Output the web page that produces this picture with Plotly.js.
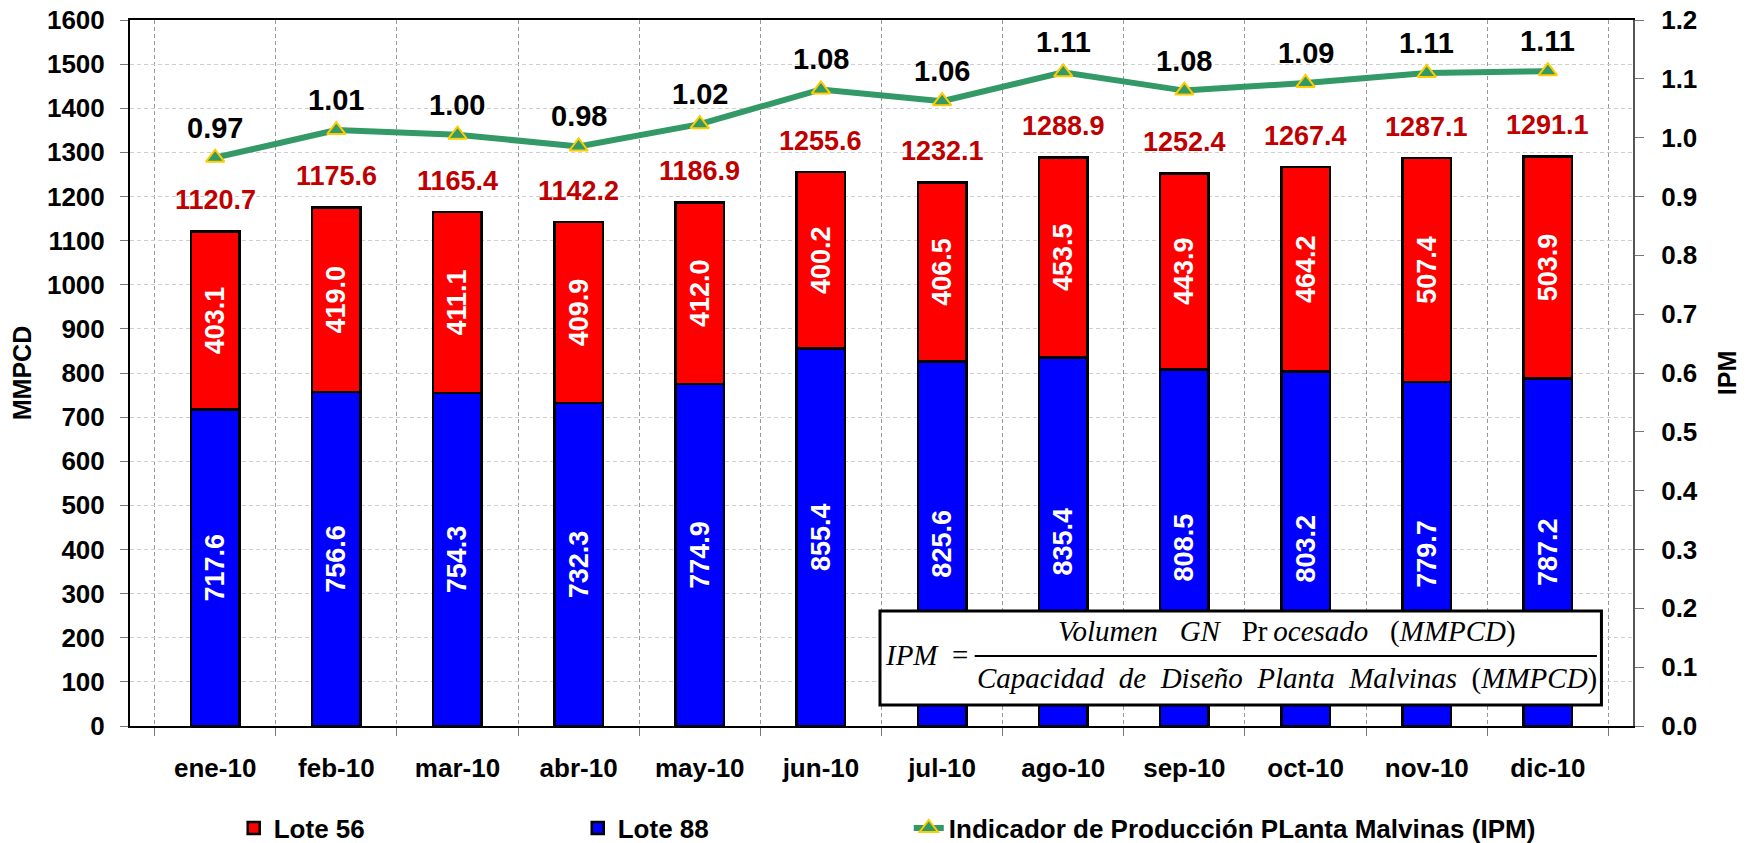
<!DOCTYPE html>
<html>
<head>
<meta charset="utf-8">
<script src="https://cdn.plot.ly/plotly-3.0.1.min.js"></script>
<style>html,body{margin:0;padding:0;background:#fff;}</style>
</head>
<body>
<div id="chart" style="width:1752px;height:843px;"></div>
<script>
// ---- Data ----
const months = ["ene-10","feb-10","mar-10","abr-10","may-10","jun-10","jul-10","ago-10","sep-10","oct-10","nov-10","dic-10"];
const lote88 = [717.6, 756.6, 754.3, 732.3, 774.9, 855.4, 825.6, 835.4, 808.5, 803.2, 779.7, 787.2];
const lote56 = [403.1, 419.0, 411.1, 409.9, 412.0, 400.2, 406.5, 453.5, 443.9, 464.2, 507.4, 503.9];
const totals = [1120.7, 1175.6, 1165.4, 1142.2, 1186.9, 1255.6, 1232.1, 1288.9, 1252.4, 1267.4, 1287.1, 1291.1];
const ipm = [0.966, 1.013, 1.005, 0.985, 1.023, 1.082, 1.062, 1.111, 1.080, 1.093, 1.110, 1.113];
const seriesNames = ["Lote 56", "Lote 88", "Indicador de Producción PLanta Malvinas (IPM)"];

const FONT = "Liberation Sans, Arial, sans-serif";
const SERIF = "Liberation Serif, Times New Roman, serif";
const PAD56 = "\u2003\u2003\u2003\u2003\u2003\u2003\u2003\u2003";
const PAD88 = "\u2003\u2003\u2003\u2003\u2003\u2003\u2003\u2002";

const traces = [
  {
    type: "bar", name: seriesNames[1] + PAD88, x: months, y: lote88,
    marker: {color: "#0000FF", line: {color: "#000", width: 2.5}},
    width: 0.4,
    text: lote88.map(v => v.toFixed(1)),
    textposition: "inside", insidetextanchor: "middle", textangle: -90,
    constraintext: "none",
    textfont: {family: FONT, size: 27, color: "#fff", weight: "bold"},
    legendrank: 2, hoverinfo: "x+y"
  },
  {
    type: "bar", name: seriesNames[0] + PAD56, x: months, y: lote56,
    marker: {color: "#FF0000", line: {color: "#000", width: 2.5}},
    width: 0.4,
    text: lote56.map(v => v.toFixed(1)),
    textposition: "inside", insidetextanchor: "middle", textangle: -90,
    constraintext: "none",
    textfont: {family: FONT, size: 27, color: "#fff", weight: "bold"},
    legendrank: 1, hoverinfo: "x+y"
  },
  {
    type: "scatter", mode: "lines+markers", name: seriesNames[2],
    x: months, y: ipm, yaxis: "y2",
    line: {color: "#339966", width: 6},
    marker: {symbol: "triangle-up", size: 16, color: "#339966", line: {color: "#FFCC00", width: 2}},
    legendrank: 3
  }
];

const annotations = [];
months.forEach((m, i) => {
  annotations.push({
    x: m, y: totals[i], xref: "x", yref: "y",
    text: totals[i].toFixed(1), showarrow: false,
    yanchor: "middle", yshift: 31,
    font: {family: FONT, size: 27, color: "#C00000", weight: "bold"}
  });
  annotations.push({
    x: m, y: ipm[i], xref: "x", yref: "y2",
    text: ipm[i].toFixed(2), showarrow: false,
    yanchor: "middle", yshift: 30,
    font: {family: FONT, size: 29, color: "#000", weight: "bold"}
  });
});

// Equation box text
const eqFont = {family: SERIF, size: 29, color: "#000"};
const G = "\u2002\u2005";
annotations.push({
  xref: "paper", yref: "paper", x: 0.530, y: 0.1005, showarrow: false,
  xanchor: "center", yanchor: "middle",
  text: "<i>IPM</i>\u2002=", font: eqFont
});
annotations.push({
  xref: "paper", yref: "paper", x: 0.770, y: 0.134, showarrow: false,
  xanchor: "center", yanchor: "middle",
  text: "<i>Volumen</i>" + G + "<i>GN</i>" + G + "Pr\u2009<i>ocesado</i>" + G + "(<i>MMPCD</i>)", font: eqFont
});
annotations.push({
  xref: "paper", yref: "paper", x: 0.770, y: 0.067, showarrow: false,
  xanchor: "center", yanchor: "middle",
  text: "<i>Capacidad</i>\u2002<i>de</i>\u2002<i>Diseño</i>\u2002<i>Planta</i>\u2002<i>Malvinas</i>\u2002(<i>MMPCD</i>)", font: eqFont
});

const shapes = [
  {type: "rect", xref: "paper", yref: "paper", x0: 0.499, x1: 0.979, y0: 0.0297, y1: 0.163,
   fillcolor: "#fff", line: {color: "#000", width: 3}, layer: "above"},
  {type: "line", xref: "paper", yref: "paper", x0: 0.562, x1: 0.976, y0: 0.0992, y1: 0.0992,
   line: {color: "#000", width: 2}, layer: "above"}
];

const layout = {
  width: 1752, height: 843,
  margin: {l: 130, r: 119, t: 20, b: 117, autoexpand: false},
  paper_bgcolor: "#fff", plot_bgcolor: "#fff",
  barmode: "stack",
  font: {family: FONT, color: "#000"},
  showlegend: true,
  legend: {
    orientation: "h", x: 0.069, xanchor: "left", y: -0.1445, yanchor: "middle",
    traceorder: "normal",
    font: {family: FONT, size: 26, color: "#000", weight: "bold"}
  },
  xaxis: {
    type: "category", tickson: "boundaries", ticks: "outside", ticklen: 8, tickcolor: "#777", tickwidth: 1,
    showgrid: true, gridcolor: "#999", griddash: "4px,3px", gridwidth: 1,
    showline: true, linecolor: "#000", linewidth: 2, mirror: true,
    tickfont: {family: FONT, size: 26, color: "#000", weight: "bold"},
    ticklabelstandoff: 18, automargin: false, fixedrange: true
  },
  yaxis: {
    range: [0, 1600], dtick: 100, ticks: "outside", ticklen: 8, tickcolor: "#777",
    showgrid: true, gridcolor: "#cfcfcf", griddash: "4px,3px", gridwidth: 1,
    showline: true, linecolor: "#000", linewidth: 2, zeroline: false,
    tickfont: {family: FONT, size: 26, color: "#000", weight: "bold"},
    ticklabelstandoff: 10, automargin: false,
    title: {text: "MMPCD", standoff: 8, font: {family: FONT, size: 25, color: "#000", weight: "bold"}},
    fixedrange: true
  },
  yaxis2: {
    overlaying: "y", side: "right", range: [0, 1.2], dtick: 0.1, tickformat: ".1f",
    ticks: "outside", ticklen: 9, tickcolor: "#777",
    showgrid: false, zeroline: false,
    showline: true, linecolor: "#555", linewidth: 2,
    tickfont: {family: FONT, size: 26, color: "#000", weight: "bold"},
    ticklabelstandoff: 12, automargin: false,
    title: {text: "IPM", standoff: 22, font: {family: FONT, size: 25, color: "#000", weight: "bold"}},
    fixedrange: true
  },
  annotations: annotations,
  shapes: shapes
};

Plotly.newPlot("chart", traces, layout, {displayModeBar: false, staticPlot: true});
</script>
</body>
</html>
